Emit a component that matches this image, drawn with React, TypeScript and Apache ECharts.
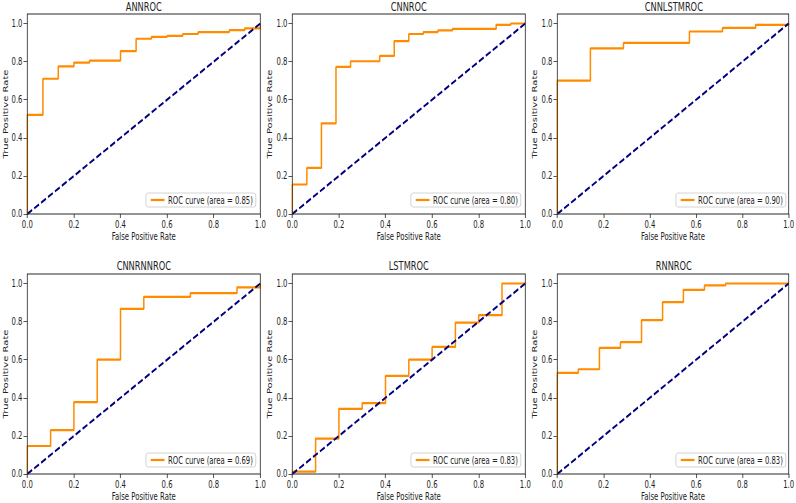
import React, { useEffect, useRef } from "react";
import * as echarts from "echarts";

// Panel titles and AUC values shown in the legends
const titles = ["ANNROC", "CNNROC", "CNNLSTMROC", "CNNRNNROC", "LSTMROC", "RNNROC"];
const aucValues = ["0.85", "0.80", "0.90", "0.69", "0.83", "0.83"];

// ROC step corners (false positive rate, true positive rate)
const annFpr = [0, 0, 0.067, 0.133, 0.2, 0.267, 0.4, 0.467, 0.533, 0.6, 0.667, 0.733, 0.867, 0.933, 1, 1];
const annTpr = [0, 0.52, 0.71, 0.775, 0.795, 0.805, 0.855, 0.92, 0.93, 0.935, 0.945, 0.955, 0.965, 0.975, 0.975, 1.0];

const cnnFpr = [0, 0, 0.0625, 0.125, 0.1875, 0.25, 0.375, 0.4375, 0.5, 0.5625, 0.625, 0.6875, 0.875, 0.9375, 1];
const cnnTpr = [0, 0.155, 0.242, 0.476, 0.772, 0.802, 0.83, 0.908, 0.945, 0.955, 0.964, 0.972, 0.993, 1.0, 1.0];

const cnnLstmFpr = [0, 0, 0.143, 0.286, 0.571, 0.714, 0.857, 1];
const cnnLstmTpr = [0, 0.7, 0.87, 0.898, 0.958, 0.977, 0.993, 1.0];

const cnnRnnFpr = [0, 0, 0.1, 0.2, 0.3, 0.4, 0.5, 0.7, 0.9, 1, 1];
const cnnRnnTpr = [0, 0.147, 0.23, 0.377, 0.6, 0.867, 0.93, 0.95, 0.98, 0.98, 1.0];

const lstmFpr = [0, 0, 0.1, 0.2, 0.3, 0.4, 0.5, 0.6, 0.7, 0.8, 0.9, 1];
const lstmTpr = [0, 0.012, 0.186, 0.342, 0.372, 0.515, 0.6, 0.667, 0.795, 0.834, 1.0, 1.0];

const rnnFpr = [0, 0, 0.091, 0.182, 0.273, 0.364, 0.455, 0.545, 0.636, 0.727, 1];
const rnnTpr = [0, 0.531, 0.55, 0.662, 0.692, 0.808, 0.902, 0.967, 0.99, 1.0, 1.0];

const fprList = [annFpr, cnnFpr, cnnLstmFpr, cnnRnnFpr, lstmFpr, rnnFpr];
const tprList = [annTpr, cnnTpr, cnnLstmTpr, cnnRnnTpr, lstmTpr, rnnTpr];

// Chance line and tick labels
const chanceX = [0, 1];
const chanceY = [0, 1];
const tickValues = [0, 0.2, 0.4, 0.6, 0.8, 1.0];

const FONT = "'DejaVu Sans', 'Liberation Sans', sans-serif";
const TEXT = "#222";
const ORANGE = "#ff8c00";
const NAVY = "#000080";

// The reference figure is horizontally squeezed; draw wide, then compress.
const S = 0.69;
const PAGE_W = 796;
const PAGE_H = 503;
const CHART_W = Math.round(PAGE_W / S);

// layout in page pixels
const colLeftPage = [27.3, 292.3, 557.3];
const rowTop = [14, 274];
const W_PAGE = 233;
const H = 200;

export default function App() {
  const ref = useRef<HTMLDivElement>(null);

  useEffect(() => {
    if (!ref.current) return;
    const chart = echarts.init(ref.current, null, { renderer: "svg" });

    const grid: any[] = [];
    const xAxis: any[] = [];
    const yAxis: any[] = [];
    const series: any[] = [];
    const title: any[] = [];
    const legend: any[] = [];

    const WC = W_PAGE / S;

    titles.forEach((t, i) => {
      const c = i % 3;
      const r = Math.floor(i / 3);
      const left = colLeftPage[c] / S;
      const top = rowTop[r];
      const name = `ROC curve (area = ${aucValues[i]})`;

      grid.push({
        left,
        top,
        width: WC,
        height: H,
        show: true,
        borderColor: "#2a2a2a",
        borderWidth: 1.2,
        backgroundColor: "transparent",
        z: 10,
        containLabel: false,
      });

      xAxis.push({
        type: "value",
        gridIndex: i,
        min: 0,
        max: 1,
        name: "False Positive Rate",
        nameLocation: "middle",
        nameGap: 18,
        nameTextStyle: { fontFamily: FONT, fontSize: 10, color: TEXT },
        axisLine: { show: false },
        axisTick: { show: true, length: 4, lineStyle: { color: "#333" }, customValues: tickValues },
        axisLabel: {
          fontFamily: FONT,
          fontSize: 10,
          color: TEXT,
          margin: 6,
          customValues: tickValues,
          formatter: (v: number) => v.toFixed(1),
        },
        splitLine: { show: false },
      });

      yAxis.push({
        type: "value",
        gridIndex: i,
        min: 0,
        max: 1.05,
        name: "True Positive Rate",
        nameLocation: "middle",
        nameRotate: 90,
        nameGap: c === 0 ? 25 : 28,
        nameTextStyle: { fontFamily: FONT, fontSize: 10, color: TEXT },
        axisLine: { show: false },
        axisTick: { show: true, length: 5.5, lineStyle: { color: "#333" }, customValues: tickValues },
        axisLabel: {
          fontFamily: FONT,
          fontSize: 10,
          color: TEXT,
          margin: 7,
          customValues: tickValues,
          formatter: (v: number) => v.toFixed(1),
        },
        splitLine: { show: false },
      });

      series.push({
        type: "line",
        name,
        xAxisIndex: i,
        yAxisIndex: i,
        step: "end",
        symbol: "none",
        color: ORANGE,
        lineStyle: { color: ORANGE, width: 2.2 },
        data: fprList[i].map((x, k) => [x, tprList[i][k]]),
        z: 3,
      });

      series.push({
        type: "line",
        name: `chance-${i}`,
        xAxisIndex: i,
        yAxisIndex: i,
        symbol: "none",
        color: NAVY,
        lineStyle: { color: NAVY, width: 2.2, type: [8, 3.5] },
        data: chanceX.map((x, k) => [x, chanceY[k]]),
        z: 4,
      });

      title.push({
        text: t,
        left: left + WC / 2,
        top: r === 0 ? 0 : 259,
        textAlign: "center",
        padding: 0,
        textStyle: { fontFamily: FONT, fontSize: 12, fontWeight: "normal", color: TEXT },
      });

      legend.push({
        data: [{ name, icon: "rect" }],
        right: CHART_W - (left + WC - 4.5 / S),
        top: top + H - 21,
        orient: "horizontal",
        itemWidth: 20,
        itemHeight: 2.2,
        padding: [2, 4, 2, 7],
        borderColor: "#cccccc",
        borderWidth: 1,
        borderRadius: 3,
        backgroundColor: "rgba(255,255,255,0.85)",
        selectedMode: false,
        textStyle: { fontFamily: FONT, fontSize: 10, color: TEXT },
      });
    });

    chart.setOption({
      animation: false,
      backgroundColor: "#fff",
      title,
      legend,
      grid,
      xAxis,
      yAxis,
      series,
    });

    return () => chart.dispose();
  }, []);

  return (
    <div
      style={{
        position: "fixed",
        left: 0,
        top: 0,
        width: PAGE_W,
        height: PAGE_H,
        overflow: "hidden",
        background: "#fff",
      }}
    >
      <div
        ref={ref}
        style={{
          width: CHART_W,
          height: PAGE_H,
          transform: `scaleX(${S})`,
          transformOrigin: "0 0",
        }}
      />
    </div>
  );
}
